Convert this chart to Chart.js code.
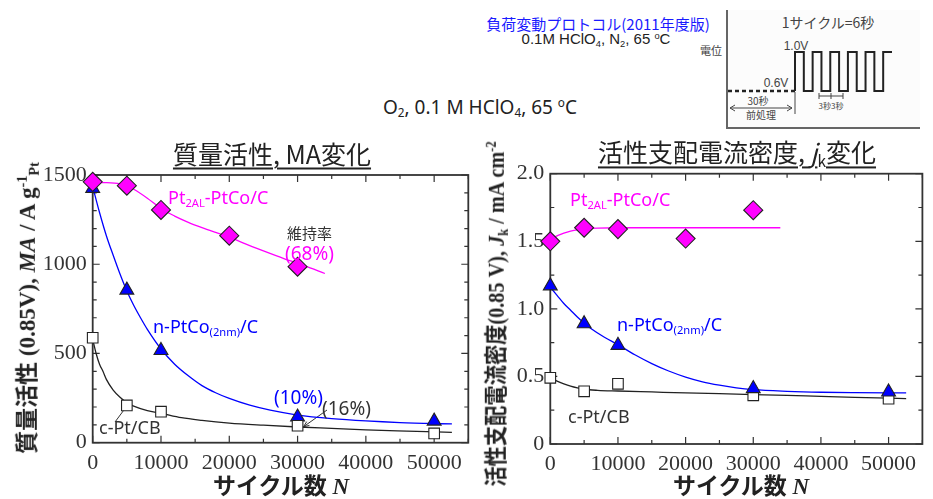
<!DOCTYPE html>
<html>
<head>
<meta charset="utf-8">
<script src="https://cdn.jsdelivr.net/npm/chart.js@4.4.0/dist/chart.umd.min.js"></script>
<style>
  body { margin: 0; width: 933px; height: 499px; overflow: hidden; position: relative; background: #fff;
         font-family: "Noto Sans", "Noto Sans CJK JP", sans-serif; color: #333; }
  canvas { position: absolute; }
  .t { position: absolute; white-space: nowrap; line-height: 1; }
  .c { transform: translate(-50%, -50%); }
  .l { transform: translateY(-50%); }
  sub { font-size: 0.62em; vertical-align: -0.3em; }
  sup { font-size: 0.62em; vertical-align: 0.55em; }
  .title { font-family: "Noto Sans CJK JP", sans-serif; font-size: 25px; color: #222;
           text-decoration: underline; text-decoration-thickness: 1.5px; text-underline-offset: 4px; }
  .axt { font-family: "Liberation Serif", "Noto Sans CJK JP", serif; font-weight: bold; color: #222; }
  .mag { color: #ff00ff; }
  .blu { color: #0000ff; }
  .inset { font-family: "Noto Sans CJK JP", sans-serif; color: #444; }
</style>
</head>
<body>

<!-- conditions / protocol -->
<div class="t c" style="left:598px;top:23px;font-family:'Noto Sans CJK JP';font-size:15px;color:#1a1aff">負荷変動プロトコル(2011年度版)</div>
<div class="t c" style="left:596px;top:40px;font-family:'Liberation Sans';font-size:15px;color:#222">0.1M HClO<sub>4</sub>, N<sub>2</sub>, 65 <sup>o</sup>C</div>
<div class="t c" style="left:480px;top:108px;font-family:'Noto Sans';font-size:19px;color:#222">O<sub>2</sub>, 0.1 M HClO<sub>4</sub>, 65 <sup>o</sup>C</div>

<div style="position:absolute;left:726px;top:10px;width:192px;height:117px;border-left:2px solid #666;border-bottom:2px solid #666;background:#fcfcfc"></div>
<div class="t c inset" style="left:828px;top:22px;font-size:14px">1サイクル=6秒</div>
<div class="t c inset" style="left:711px;top:50px;font-size:11px">電位</div>
<div class="t c inset" style="left:796px;top:46px;font-size:12px;font-family:'Liberation Sans'">1.0V</div>
<div class="t c inset" style="left:776px;top:83px;font-size:12px;font-family:'Liberation Sans'">0.6V</div>
<div class="t c inset" style="left:758px;top:101px;font-size:10px">30秒</div>
<div class="t c inset" style="left:761px;top:115px;font-size:10px">前処理</div>
<div class="t c inset" style="left:831px;top:106px;font-size:8px">3秒3秒</div>
<svg style="position:absolute;left:0;top:0" width="933" height="130">
  <g stroke="#444" stroke-width="1" fill="none">
    <line x1="730" y1="108" x2="792" y2="108"/>
    <polyline points="735,105 730,108 735,111"/>
    <polyline points="787,105 792,108 787,111"/>
    <line x1="795" y1="92" x2="795" y2="114"/>
    <line x1="819" y1="96" x2="843" y2="96"/>
    <line x1="819" y1="93" x2="819" y2="99"/>
    <line x1="831" y1="93" x2="831" y2="99"/>
    <line x1="843" y1="93" x2="843" y2="99"/>
  </g>
</svg>
<canvas id="preChart" width="75" height="47" style="left:724px;top:48px"></canvas>
<canvas id="waveChart" width="105" height="47" style="left:791px;top:48px"></canvas>

<!-- main charts -->
<canvas id="maChart" width="480" height="369" style="left:0;top:130px"></canvas>
<canvas id="jkChart" width="453" height="369" style="left:480px;top:130px"></canvas>

<div class="t c title" style="left:272px;top:153px">質量活性, MA変化</div>
<div class="t c title" style="left:737px;top:154px">活性支配電流密度, <i>j</i><sub>k</sub>変化</div>

<div class="t c axt" style="left:281px;top:486px;font-size:23px">サイクル数 <i>N</i></div>
<div class="t c axt" style="left:741px;top:486px;font-size:23px">サイクル数 <i>N</i></div>
<div class="t axt" style="left:28px;top:308px;font-size:23px;transform:translate(-50%,-50%) rotate(-90deg)">質量活性 (0.85V), <i>MA</i> / A g<sup>-1</sup><sub>Pt</sub></div>
<div class="t axt" style="left:497px;top:314px;font-size:23px;transform:translate(-50%,-50%) rotate(-90deg) scaleX(0.88)">活性支配電流密度(0.85 V), <i>J</i><sub>k</sub> / mA cm<sup>-2</sup></div>

<!-- series labels -->
<div class="t l mag" style="left:168px;top:198px;font-size:18px">Pt<sub>2AL</sub>-PtCo/C</div>
<div class="t l" style="left:287px;top:232px;font-size:15px;font-family:'Noto Sans CJK JP'">維持率</div>
<div class="t l mag" style="left:285px;top:253px;font-size:19px">(68%)</div>
<div class="t l blu" style="left:153px;top:327px;font-size:18px">n-PtCo<sub>(2nm)</sub>/C</div>
<div class="t l blu" style="left:274px;top:397px;font-size:19px">(10%)</div>
<div class="t l" style="left:322px;top:408px;font-size:19px">(16%)</div>
<div class="t l" style="left:99px;top:427px;font-size:18px">c-Pt/CB</div>

<div class="t l mag" style="left:570px;top:200px;font-size:18px">Pt<sub>2AL</sub>-PtCo/C</div>
<div class="t l blu" style="left:617px;top:325px;font-size:18px">n-PtCo<sub>(2nm)</sub>/C</div>
<div class="t l" style="left:568px;top:416px;font-size:18px">c-Pt/CB</div>

<script>
// measured points
const cyclesPt2al = [0, 5000, 10000, 20000, 30000];
const cyclesOther = [0, 5000, 10000, 30000, 50000];

const maPt2al = [1462, 1440, 1304, 1160, 986];
const maNPtCo = [1425, 855, 517, 144, 121];
const maCPt   = [588, 209, 174, 95, 52];

const jkPt2al = [1.50, 1.60, 1.59, 1.52, 1.73];
const jkNPtCo = [1.17, 0.89, 0.73, 0.41, 0.385];
const jkCPt   = [0.49, 0.39, 0.445, 0.36, 0.335];

// fitted curves
const maFitPt2alN = [0, 2000, 4000, 5000, 6000, 8000, 10000, 12000, 14000, 16000, 18000, 20000, 22000, 25000, 28000, 31000, 34000];
const maFitPt2al  = [1458, 1457, 1450, 1438, 1420, 1370, 1312, 1270, 1235, 1205, 1178, 1152, 1120, 1075, 1032, 992, 948];
const maFitNPtCoN = [0, 1000, 2000, 3000, 4000, 5000, 6000, 7000, 8000, 10000, 12000, 14000, 16000, 18000, 20000, 23000, 26000, 30000, 35000, 40000, 45000, 52600];
const maFitNPtCo  = [1435, 1290, 1160, 1050, 945, 850, 770, 700, 635, 525, 440, 375, 320, 280, 248, 210, 182, 155, 135, 122, 113, 105];
const maFitCPtN   = [0, 500, 1000, 1500, 2000, 3000, 4000, 5000, 6000, 8000, 10000, 13000, 16000, 20000, 25000, 30000, 35000, 40000, 46000, 52600];
const maFitCPt    = [580, 500, 440, 400, 355, 295, 255, 225, 205, 180, 165, 140, 125, 110, 98, 88, 80, 72, 65, 58];

const jkFitPt2alN = [0, 1000, 2000, 3000, 4000, 5000, 7000, 10000, 15000, 34000];
const jkFitPt2al  = [1.52, 1.54, 1.56, 1.575, 1.585, 1.59, 1.597, 1.60, 1.60, 1.60];
const jkFitNPtCoN = [0, 1000, 2000, 3000, 4000, 5000, 6000, 8000, 10000, 12500, 15000, 17500, 20000, 22500, 25000, 27500, 30000, 35000, 40000, 45000, 52600];
const jkFitNPtCo  = [1.16, 1.10, 1.04, 0.99, 0.94, 0.895, 0.855, 0.79, 0.735, 0.66, 0.595, 0.54, 0.495, 0.46, 0.435, 0.415, 0.402, 0.39, 0.383, 0.38, 0.378];
const jkFitCPtN   = [0, 1000, 2000, 3000, 4000, 5000, 7000, 10000, 15000, 20000, 25000, 30000, 35000, 40000, 45000, 52600];
const jkFitCPt    = [0.49, 0.465, 0.445, 0.428, 0.415, 0.405, 0.397, 0.392, 0.385, 0.378, 0.372, 0.366, 0.36, 0.352, 0.345, 0.336];

// protocol inset
const preTime = [0, 30];
const preVolt = [0.6, 0.6];
const waveTime = [30, 30, 33, 36, 39, 42, 45, 48, 51, 54, 57, 60, 63];
const waveVolt = [0.6, 1.0, 0.6, 1.0, 0.6, 1.0, 0.6, 1.0, 0.6, 1.0, 0.6, 1.0, 1.0];

const MAGENTA = '#ff00ff', BLUE = '#0000ff', DARK = '#333';

function pts(xs, ys) { return xs.map((x, i) => ({x: x, y: ys[i]})); }

function markers(xs, ys, style, fill, r) {
  return { data: pts(xs, ys), showLine: false, pointStyle: style, pointRadius: r, pointHoverRadius: r,
           backgroundColor: fill, borderColor: '#222', borderWidth: 1.1, clip: false };
}
function curve(xs, ys, color) {
  return { data: pts(xs, ys), showLine: true, pointRadius: 0, borderColor: color, borderWidth: 1.3,
           cubicInterpolationMode: 'monotone', fill: false };
}

// box + inward ticks (major ones longer)
const frame = {
  id: 'frame',
  beforeDatasetsDraw(chart, args, opts) {
    const {ctx, chartArea: a, scales: {x, y}} = chart;
    const major = (v, step) => Math.abs(v / step - Math.round(v / step)) < 1e-6;
    ctx.save();
    ctx.strokeStyle = DARK;
    ctx.lineWidth = 1.2;
    ctx.beginPath();
    x.ticks.forEach(t => {
      const p = x.getPixelForValue(t.value);
      const len = major(t.value, opts.xMajor) ? 7 : 4;
      ctx.moveTo(p, a.bottom); ctx.lineTo(p, a.bottom - len);
      ctx.moveTo(p, a.top); ctx.lineTo(p, a.top + len);
    });
    y.ticks.forEach(t => {
      const p = y.getPixelForValue(t.value);
      const len = major(t.value, opts.yMajor) ? 7 : 4;
      ctx.moveTo(a.left, p); ctx.lineTo(a.left + len, p);
      ctx.moveTo(a.right, p); ctx.lineTo(a.right - len, p);
    });
    ctx.stroke();
    ctx.lineWidth = 1.8;
    ctx.strokeRect(a.left, a.top, a.right - a.left, a.bottom - a.top);
    // leader lines from labels to points
    (opts.leaders || []).forEach(ld => {
      const ds = chart.data.datasets[ld.ds].data[ld.idx];
      const ex = x.getPixelForValue(ds.x) + ld.dx, ey = y.getPixelForValue(ds.y) + ld.dy;
      ctx.lineWidth = 1;
      ctx.beginPath();
      ctx.moveTo(ld.from[0], ld.from[1]); ctx.lineTo(ex, ey);
      if (ld.arrow) {
        const ang = Math.atan2(ey - ld.from[1], ex - ld.from[0]);
        ctx.moveTo(ex, ey); ctx.lineTo(ex - 6 * Math.cos(ang - 0.4), ey - 6 * Math.sin(ang - 0.4));
        ctx.moveTo(ex, ey); ctx.lineTo(ex - 6 * Math.cos(ang + 0.4), ey - 6 * Math.sin(ang + 0.4));
      }
      ctx.stroke();
    });
    ctx.restore();
  }
};

const tickFont = {family: 'Liberation Serif', size: 22};

function mainOptions(yMax, yStep, yMajor, yLabel, leftW, bottomH, pad, leaders) {
  return {
    responsive: false,
    animation: false,
    events: [],
    layout: {padding: pad},
    plugins: {legend: {display: false}, tooltip: {enabled: false},
              frame: {xMajor: 10000, yMajor: yMajor, leaders: leaders}},
    scales: {
      x: {type: 'linear', min: 0, max: 55000,
          afterFit(s) { s.height = bottomH; },
          grid: {display: false, drawTicks: false}, border: {display: false},
          ticks: {stepSize: 5000, autoSkip: false, maxRotation: 0, padding: 7, color: DARK, font: tickFont,
                  callback: v => v % 10000 === 0 ? String(v) : ''}},
      y: {type: 'linear', min: 0, max: yMax,
          afterFit(s) { s.width = leftW; },
          grid: {display: false, drawTicks: false}, border: {display: false},
          ticks: {stepSize: yStep, autoSkip: false, padding: 6, color: DARK, font: tickFont,
                  callback: yLabel}}
    }
  };
}

new Chart(document.getElementById('maChart'), {
  type: 'scatter',
  data: {datasets: [
    markers(cyclesPt2al, maPt2al, 'rectRot', MAGENTA, 9.5),
    markers(cyclesOther, maCPt, 'rect', '#fff', 7.5),
    markers(cyclesOther, maNPtCo, 'triangle', BLUE, 8),
    curve(maFitPt2alN, maFitPt2al, MAGENTA),
    curve(maFitNPtCoN, maFitNPtCo, BLUE),
    curve(maFitCPtN, maFitCPt, '#222')
  ]},
  options: mainOptions(1500, 100, 500, v => v % 500 === 0 ? String(v) : '', 92.7, 56.3,
                       {top: 45, right: 11.7, left: 0, bottom: 0},
                       [{ds: 1, idx: 3, dx: 6, dy: 1, from: [327, 280], arrow: true},
                        {ds: 1, idx: 1, dx: -1, dy: 2, from: [115, 292]}]),
  plugins: [frame]
});

new Chart(document.getElementById('jkChart'), {
  type: 'scatter',
  data: {datasets: [
    markers(cyclesPt2al, jkPt2al, 'rectRot', MAGENTA, 9.5),
    markers(cyclesOther, jkNPtCo, 'triangle', BLUE, 8),
    markers(cyclesOther, jkCPt, 'rect', '#fff', 7.5),
    curve(jkFitPt2alN, jkFitPt2al, MAGENTA),
    curve(jkFitNPtCoN, jkFitNPtCo, BLUE),
    curve(jkFitCPtN, jkFitCPt, '#222')
  ]},
  options: mainOptions(2.0, 0.25, 0.5, v => v === 0 ? '0' : (Math.abs(v * 2 - Math.round(v * 2)) < 1e-6 ? v.toFixed(1) : ''),
                       70.3, 55, {top: 43.7, right: 2, left: 0, bottom: 0}, []),
  plugins: [frame]
});

function insetOptions(xMin, xMax) {
  return {
    responsive: false, animation: false, events: [],
    layout: {padding: 4},
    plugins: {legend: {display: false}, tooltip: {enabled: false}},
    scales: {x: {type: 'linear', display: false, min: xMin, max: xMax},
             y: {type: 'linear', display: false, min: 0.6, max: 1.0}}
  };
}

new Chart(document.getElementById('preChart'), {
  type: 'scatter',
  data: {datasets: [{data: pts(preTime, preVolt), showLine: true, pointRadius: 0, borderColor: '#222',
                     borderWidth: 2.5, borderDash: [4, 3], clip: false}]},
  options: insetOptions(0, 30)
});

new Chart(document.getElementById('waveChart'), {
  type: 'scatter',
  data: {datasets: [{data: pts(waveTime, waveVolt), showLine: true, stepped: 'before', pointRadius: 0,
                     borderColor: '#222', borderWidth: 2, clip: false}]},
  options: insetOptions(30, 63)
});
</script>
</body>
</html>
